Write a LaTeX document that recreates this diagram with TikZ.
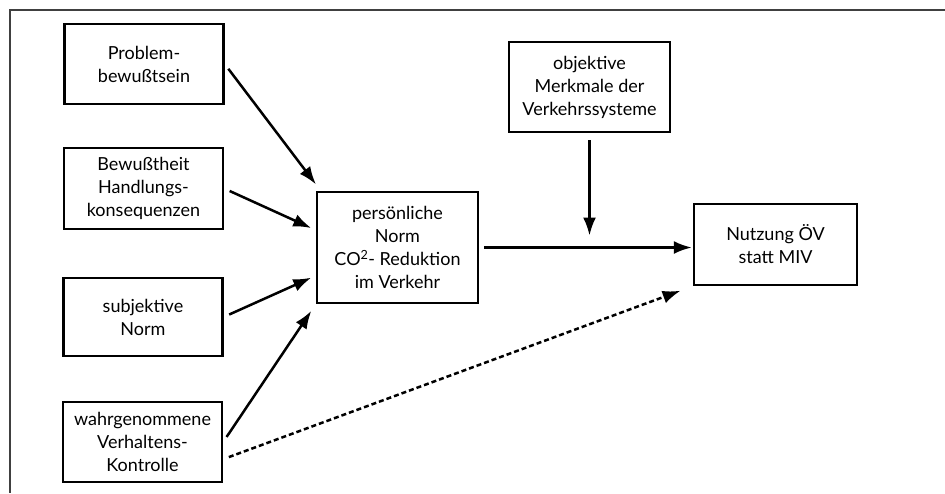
\documentclass[tikz,border=0pt]{standalone}
\usepackage{fontspec}
\setmainfont{Lato}
\usetikzlibrary{arrows.meta}

\begin{document}
\begin{tikzpicture}[x=1pt, y=-1pt,
				>={Latex[length=18pt,width=13pt]},   %Pfeilspitzen
				font=\fontsize{18}{23}\selectfont,
				kasten/.style={draw, line width=2.4pt, align=center, inner sep=2pt, minimum width=159pt},
				pfeil/.style={->, line width=2.5pt, shorten <=6pt, shorten >=5pt},
				rahmen/.style={draw=black!75, line width=1.2pt}]
				\useasboundingbox (0,0) rectangle (945,493);
				% Rahmen
				\draw[rahmen] (945,10) -- (10,10) -- (10,493);
				% Kaesten links
				\node[kasten, minimum height=80pt] (prob) at (144,64) {Problem-\\bewußtsein};
				\node[kasten, minimum height=81pt] (bew) at (143.5,188.5) {Bewußtheit\\Handlungs-\\konsequenzen};
				\node[kasten, minimum height=78pt] (subj) at (143,317) {subjektive\\Norm};
				\node[kasten, minimum height=80pt] (wahr) at (142.5,442) {wahrgenommene\\Verhaltens-\\Kontrolle};
				% Kaesten Mitte und rechts
				\node[kasten, minimum width=161pt, minimum height=111pt] (pers) at (397.5,247.5) {persönliche\\Norm\\CO\textsuperscript{2}- Reduktion\\im Verkehr};
				\node[kasten, minimum width=161pt, minimum height=90pt] (obj) at (589.5,87) {objektive\\Merkmale der\\Verkehrssysteme};
				\node[kasten, minimum width=163pt, minimum height=81pt] (nutz) at (775.5,244.5) {Nutzung ÖV\\statt MIV};
				\coordinate (mitte) at (obj.south |- pers.east);
				% Pfeile
				\draw[pfeil, shorten >=8pt] (prob.east) -- ([xshift=5pt]pers.north west);
				\draw[pfeil] (bew.east) -- (pers.168);
				\draw[pfeil] (subj.east) -- (pers.199);
				\draw[pfeil, shorten >=8pt] (wahr.east) -- (pers.south west);
				\draw[pfeil, shorten <=5pt, shorten >=1pt] (pers.east) -- (pers.east -| nutz.west);
				\draw[pfeil, shorten <=7pt, shorten >=12pt] (obj.south) -- (mitte);
				\draw[pfeil, dash pattern=on 5pt off 3pt, shorten >=13pt] (wahr.348) -- (nutz.south west);
			\end{tikzpicture}
\end{document}
